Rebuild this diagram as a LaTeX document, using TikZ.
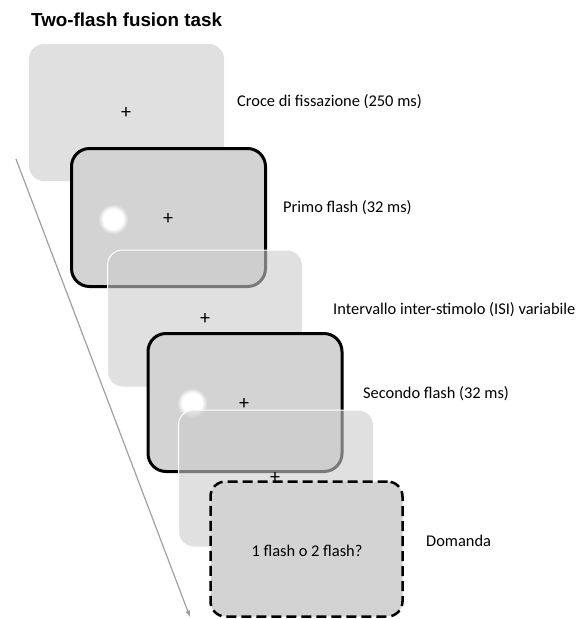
\documentclass[tikz,border=0pt]{standalone}
\usepackage{fontspec}
\setmainfont{Carlito}
\newfontfamily\titlefont{Liberation Sans}
\definecolor{lightscreen}{RGB}{224,224,224}
\definecolor{darkscreen}{RGB}{211,211,211}
\definecolor{gapgray}{RGB}{203,203,203}
\definecolor{timegray}{RGB}{160,160,160}
\pgfdeclareradialshading{glow}{\pgfpoint{0bp}{0bp}}{color(0bp)=(white);color(10bp)=(white);color(15bp)=(darkscreen);color(50bp)=(darkscreen)}
\tikzset{
  screen/.style={rounded corners=15pt,minimum width=195pt,minimum height=137pt,inner sep=0pt},
  blank/.style={screen,fill=lightscreen},
  stim/.style={screen,fill=darkscreen,draw=black,line width=3pt,rounded corners=18pt,minimum width=194pt,minimum height=138pt},
  gap/.style={screen,fill=gapgray,fill opacity=0.6,draw=white,line width=1pt},
  quest/.style={screen,fill=darkscreen,draw=black,line width=2.5pt,dash pattern=on 10pt off 5pt,minimum width=192pt,minimum height=135pt},
  flash/.style={circle,minimum size=50pt,inner sep=0pt,shading=glow},
  cue/.style={inner sep=0pt,font=\fontsize{20}{22}\selectfont},
  phase/.style={anchor=west,inner sep=0pt,font=\fontsize{16.4}{19}\selectfont}
}
\begin{document}
\begin{tikzpicture}[>=latex,x=1pt,y=-1pt]
\useasboundingbox(0,0)rectangle(578,619);
% schermate
\node[blank](fix)at(126.5,112.5){};
\node[cue](cross1)at(126,113){+};
\node[stim](first)at(168.5,217.5){};
\node[flash](flash1)at(113,219){};
\node[cue](cross2)at(168,219){+};
\node[gap](isi1)at(205,318.5){};
\node[cue](cross3)at(205,319){+};
\node[stim](second)at(245,402.5){};
\node[flash](flash2)at(192,403){};
\node[cue](cross4)at(244,404){+};
\node[gap](isi2)at(276,478.5){};
\node[quest](ask)at(306.5,549){};
\node[cue](cross5)at(275,478){+};
\node[cue,font=\fontsize{16.4}{19}\selectfont](askText)at(307,551){1 flash o 2 flash?};
% etichette
\node[phase](lFix)at(237,102){Croce di fissazione (250 ms)};
\node[phase](lFirst)at(283,208){Primo flash (32 ms)};
\node[phase](lIsi)at(333,310){Intervallo inter-stimolo (ISI) variabile};
\node[phase](lSecond)at(363,394){Secondo flash (32 ms)};
\node[phase](lAsk)at(426,541){Domanda};
% asse del tempo
\coordinate(tStart)at(16,159);
\coordinate(tEnd)at(190,617);
\draw[->,timegray,line width=1.2pt](tStart)--(tEnd);
\node[anchor=west,inner sep=0pt,font=\titlefont\bfseries\fontsize{18.8}{22}\selectfont](title)at(31,20){Two-flash fusion task};
\end{tikzpicture}
\end{document}
